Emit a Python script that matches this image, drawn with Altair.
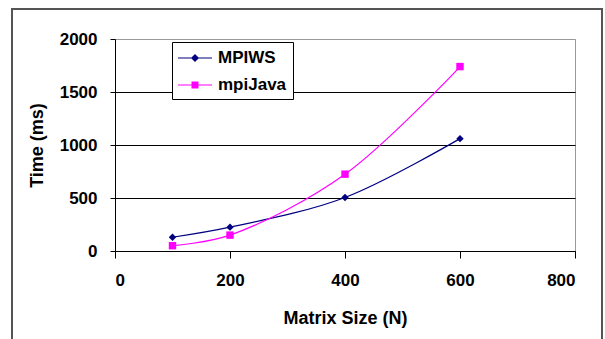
import altair as alt
import pandas as pd

sizes = [100, 200, 400, 600]
mpiws = [130, 225, 505, 1060]
mpijava = [50, 150, 725, 1740]
series = ["MPIWS", "mpiJava"]
colors = ["#000080", "#FF00FF"]
x_ticks = [0, 200, 400, 600, 800]
y_ticks = [0, 500, 1000, 1500, 2000]

rows = []
for s, vals in zip(series, [mpiws, mpijava]):
    for n, v in zip(sizes, vals):
        rows.append({"Size": n, "Time": v, "Series": s})
df = pd.DataFrame(rows)

FONT = "Liberation Sans"

x_enc = alt.X("Size:Q", scale=alt.Scale(domain=[0, 800], nice=False),
              axis=alt.Axis(values=x_ticks, title="Matrix Size (N)", grid=False,
                            format="d", tickSize=7, labelPadding=14, titleY=67,
                            titleBaseline="middle"))
y_enc = alt.Y("Time:Q", scale=alt.Scale(domain=[0, 2000], nice=False),
              axis=alt.Axis(values=y_ticks, title="Time (ms)", tickSize=5,
                            format="d", labelPadding=13, titleX=-78, titleY=106,
                            titleAngle=-90, titleAlign="center",
                            titleBaseline="middle",
                            gridColor={"condition": {"test": "datum.value === 2000", "value": "#999999"},
                                       "value": "#000000"}))
color_scale = alt.Scale(domain=series, range=colors)

lines = alt.Chart(df).mark_line(interpolate="catmull-rom", strokeWidth=1.2).encode(
    x=x_enc, y=y_enc,
    color=alt.Color("Series:N", scale=color_scale, legend=None),
    detail="Series:N",
)

points = alt.Chart(df).mark_point(filled=True, opacity=1, size=55, strokeWidth=0).encode(
    x="Size:Q", y="Time:Q",
    color=alt.Color("Series:N", scale=color_scale, legend=None),
    shape=alt.Shape("Series:N", scale=alt.Scale(domain=series, range=["diamond", "square"]), legend=None),
)

leg_paths = [
    "M-1,-0.05H2.4V0.05H-1Z M0.7,-0.4L1.1,0L0.7,0.4L0.3,0Z",
    "M-1,-0.05H2.4V0.05H-1Z M0.35,-0.35H1.05V0.35H0.35Z",
]
legend = alt.Legend(title=None, orient="none", legendX=57, legendY=3,
                    strokeColor="#000000", fillColor="#ffffff", padding=6,
                    symbolSize=400, symbolOpacity=1, symbolStrokeWidth=0,
                    labelOffset=20, rowPadding=9,
                    labelFont=FONT, labelFontSize=17, labelFontWeight="bold",
                    labelColor="#000000", cornerRadius=0)
leg_layer = alt.Chart(df).mark_point(filled=True, opacity=0, size=1).encode(
    x="Size:Q", y="Time:Q",
    color=alt.Color("Series:N", scale=color_scale, legend=legend),
    shape=alt.Shape("Series:N", scale=alt.Scale(domain=series, range=leg_paths), legend=legend),
)

border = alt.Chart(alt.Data(values=[{}])).mark_rect(
    fill=None, stroke="#555555", strokeWidth=2, clip=False
).encode(x=alt.value(-103), x2=alt.value(487), y=alt.value(-30), y2=alt.value(310))

chart = alt.layer(lines, points, leg_layer, border).resolve_scale(
    shape="independent", color="independent"
).properties(
    width=460, height=212,
    padding={"left": 115, "top": 39, "right": 30, "bottom": 88},
    autosize=alt.AutoSizeParams(type="none"),
    background="#ffffff",
).configure_view(stroke="#999999", strokeWidth=1).configure_axis(
    labelFont=FONT, labelFontSize=17, labelFontWeight="bold", labelColor="#000000",
    titleFont=FONT, titleFontSize=18, titleFontWeight="bold", titleColor="#000000",
    domainColor="#000000", tickColor="#000000", gridWidth=1, gridOpacity=1,
)

chart.save("out.html", embed_options={"renderer": "svg", "actions": False})
